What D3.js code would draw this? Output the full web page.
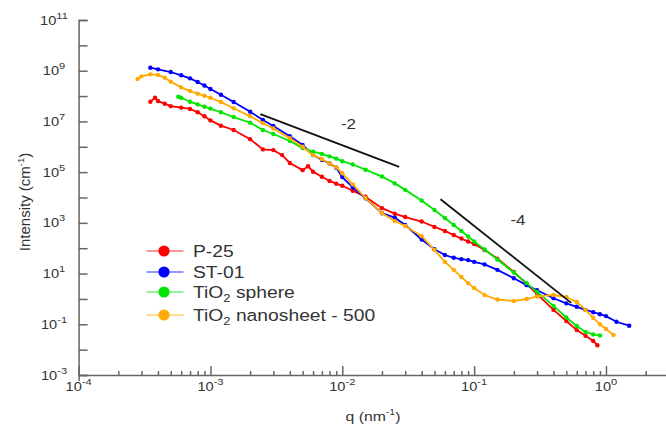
<!DOCTYPE html>
<html>
<head>
<meta charset="utf-8">
<script src="https://cdn.jsdelivr.net/npm/d3@7"></script>
<style>
  body { margin: 0; background: #fff; }
  text { font-family: "Liberation Sans", Arial, sans-serif; fill: #333; }
</style>
</head>
<body>
<script>
// q (nm^-1) and intensity (cm^-1)
const p25Q = [3.5e-4, 3.8e-4, 4e-4, 4.5e-4, 5e-4, 6e-4, 7e-4, 8e-4, 9e-4, 1e-3, 1.2e-3, 1.5e-3, 2e-3, 2.5e-3, 3e-3, 3.5e-3, 4e-3, 5e-3, 5.5e-3, 6e-3, 7e-3, 8e-3, 9e-3, 1e-2, 1.2e-2, 1.5e-2, 2e-2, 2.5e-2, 3e-2, 4e-2, 5e-2, 6e-2, 7e-2, 8e-2, 9e-2, 0.1, 0.12, 0.15, 0.2, 0.25, 0.3, 0.4, 0.5, 0.6, 0.7, 0.8, 0.86];
const p25I = [6.0e7, 8.6e7, 6.4e7, 5.0e7, 4.0e7, 3.5e7, 3.1e7, 2.3e7, 1.59e7, 1.1e7, 6.8e6, 4.6e6, 2.0e6, 7.9e5, 7.4e5, 4.7e5, 2.3e5, 1.2e5, 1.7e5, 1.04e5, 6.6e4, 4.5e4, 3.5e4, 2.9e4, 1.85e4, 1.07e4, 3.8e3, 2.3e3, 1.7e3, 1.13e3, 690, 480, 330, 240, 184, 147, 85, 39, 11.5, 3.9, 1.56, 0.37, 0.135, 0.059, 0.035, 0.022, 0.015];

const st01Q = [3.5e-4, 4e-4, 5e-4, 6e-4, 7e-4, 8e-4, 9e-4, 1e-3, 1.2e-3, 1.5e-3, 2e-3, 2.5e-3, 3e-3, 4e-3, 5e-3, 6e-3, 7e-3, 8e-3, 9e-3, 1e-2, 1.2e-2, 1.5e-2, 2e-2, 2.5e-2, 3e-2, 4e-2, 5e-2, 6e-2, 7e-2, 8e-2, 9e-2, 0.1, 0.12, 0.15, 0.2, 0.25, 0.3, 0.4, 0.5, 0.6, 0.7, 0.8, 0.9, 1.0, 1.2, 1.5];
const st01I = [1.31e9, 1.13e9, 8.9e8, 6.6e8, 5.0e8, 3.6e8, 2.6e8, 1.9e8, 1.13e8, 5.8e7, 2.4e7, 1.14e7, 6.6e6, 2.6e6, 1.17e6, 4.7e5, 3.1e5, 2.2e5, 1.5e5, 6.4e4, 2.5e4, 9.3e3, 2.4e3, 1.6e3, 820, 220, 91, 54, 42, 37, 34, 29, 23, 14, 6.5, 3.5, 2.2, 1.06, 0.67, 0.49, 0.37, 0.30, 0.25, 0.21, 0.126, 0.088];

const sphereQ = [5.7e-4, 6e-4, 7e-4, 8e-4, 9e-4, 1e-3, 1.2e-3, 1.5e-3, 2e-3, 2.5e-3, 3e-3, 4e-3, 5e-3, 6e-3, 7e-3, 8e-3, 9e-3, 1e-2, 1.2e-2, 1.5e-2, 2e-2, 2.5e-2, 3e-2, 4e-2, 5e-2, 6e-2, 7e-2, 8e-2, 9e-2, 0.1, 0.12, 0.15, 0.2, 0.25, 0.3, 0.4, 0.5, 0.6, 0.7, 0.8, 0.9];
const sphereI = [9.4e7, 8.6e7, 6.0e7, 4.7e7, 3.8e7, 3.2e7, 2.3e7, 1.49e7, 8.9e6, 4.6e6, 3.2e6, 1.69e6, 8.9e5, 6.4e5, 5.2e5, 4.2e5, 3.4e5, 2.7e5, 2.0e5, 1.25e5, 6.7e4, 3.6e4, 2.0e4, 7.6e3, 3.2e3, 1.55e3, 820, 480, 290, 184, 89, 36, 11, 4.2, 1.9, 0.53, 0.185, 0.086, 0.050, 0.040, 0.036];

const sheetQ = [2.8e-4, 3e-4, 3.5e-4, 4e-4, 4.5e-4, 5e-4, 6e-4, 7e-4, 8e-4, 9e-4, 1e-3, 1.2e-3, 1.5e-3, 2e-3, 2.5e-3, 3e-3, 4e-3, 5e-3, 6e-3, 7e-3, 8e-3, 9e-3, 1e-2, 1.2e-2, 1.5e-2, 2e-2, 2.5e-2, 3e-2, 4e-2, 5e-2, 6e-2, 7e-2, 8e-2, 9e-2, 0.1, 0.12, 0.15, 0.2, 0.25, 0.3, 0.4, 0.5, 0.6, 0.7, 0.8, 0.9, 1.0, 1.14];
const sheetI = [4.7e8, 6.0e8, 7.2e8, 6.8e8, 5.3e8, 3.7e8, 2.2e8, 1.58e8, 1.24e8, 1.03e8, 8.6e7, 5.8e7, 3.3e7, 1.59e7, 8.6e6, 5.3e6, 2.2e6, 1.0e6, 4.7e5, 3.3e5, 2.2e5, 1.55e5, 9.0e4, 3.3e4, 9.5e3, 2.4e3, 1.18e3, 750, 300, 85, 29, 14, 7.3, 4.2, 2.7, 1.43, 0.95, 0.83, 0.99, 1.25, 1.43, 1.19, 0.76, 0.37, 0.18, 0.10, 0.065, 0.038];

const seriesNames = ["P-25", "ST-01", "TiO2 sphere", "TiO2 nanosheet - 500"];
const seriesColors = ["#ff0000", "#0000ff", "#00e600", "#ffaa00"];

// guide slopes: [q, I] endpoints and their labels
const slope2 = [[2.39e-3, 1.95e7], [2.7e-2, 1.62e5]];
const slope4 = [[5.56e-2, 8.5e3], [0.545, 0.7]];
const slopeLabels = ["-2", "-4"];

const width = 666, height = 428;
const svg = d3.select("body").append("svg")
    .attr("width", width)
    .attr("height", height);

const x = d3.scaleLog().domain([1e-4, 3]).range([78.6, 668.9]);
const y = d3.scaleLog().domain([1e-3, 1e11]).range([375, 20]);

const axisColor = "#666";
const sx = 1.17; // text in the source is a bit wide

// text helper, stretched horizontally
function label(px, py, size, anchor) {
    return svg.append("g")
        .attr("transform", `translate(${px},${py}) scale(${sx},1)`)
        .append("text")
        .attr("text-anchor", anchor)
        .style("font-size", size + "px");
}
function power(t, e) {
    t.append("tspan").text("10");
    t.append("tspan").attr("dy", -6).style("font-size", "9.5px").text(e);
}

// y axis: ticks every decade, inside, labels at odd powers
const yAxis = svg.append("g")
    .attr("transform", `translate(${x(1e-4)},0)`)
    .call(d3.axisLeft(y)
        .tickValues(d3.range(-3, 12).map(e => Math.pow(10, e)))
        .tickSize(-9)
        .tickFormat(""));
yAxis.select(".domain").attr("stroke", axisColor).attr("stroke-width", 1.5);
yAxis.selectAll(".tick line").attr("stroke", axisColor).attr("stroke-width", 1.5);

d3.range(-3, 12, 2).forEach(e => {
    power(label(54, y(Math.pow(10, e)) + 4.5, 12.5, "middle"), e);
});

// x axis: minor + major ticks inside
const xTicks = [];
for (let e = -4; e <= 0; e++) {
    for (let m = 1; m <= 9; m++) {
        const v = m * Math.pow(10, e);
        if (v <= 3) xTicks.push(v);
    }
}
const xAxis = svg.append("g")
    .attr("transform", `translate(0,${y(1e-3)})`)
    .call(d3.axisBottom(x)
        .tickValues(xTicks)
        .tickFormat(""));
xAxis.select(".domain").attr("stroke", axisColor).attr("stroke-width", 1.5);
xAxis.selectAll(".tick line")
    .attr("stroke", axisColor)
    .attr("stroke-width", 1.5)
    .attr("y2", d => {
        const lg = Math.log10(d);
        return Math.abs(lg - Math.round(lg)) < 1e-9 ? -9 : -4;
    });

d3.range(-4, 1).forEach(e => {
    power(label(x(Math.pow(10, e)), 391, 12.5, "middle"), e);
});

// axis titles
const yTitle = svg.append("text")
    .attr("transform", `translate(30,${202}) rotate(-90)`)
    .attr("text-anchor", "middle")
    .style("font-size", "15px");
yTitle.append("tspan").text("Intensity (cm");
yTitle.append("tspan").attr("dy", -6).style("font-size", "9.5px").text("-1");
yTitle.append("tspan").attr("dy", 6).text(")");

const xTitle = label(373, 421, 13.5, "middle");
xTitle.append("tspan").text("q (nm");
xTitle.append("tspan").attr("dy", -6).style("font-size", "9px").text("-1");
xTitle.append("tspan").attr("dy", 6).text(")");

// series
const allQ = [p25Q, st01Q, sphereQ, sheetQ];
const allI = [p25I, st01I, sphereI, sheetI];
const line = d3.line().x(d => x(d[0])).y(d => y(d[1]));

allQ.forEach((qs, i) => {
    const pts = qs.map((q, k) => [q, allI[i][k]]);
    const g = svg.append("g");
    g.append("path")
        .datum(pts)
        .attr("d", line)
        .attr("fill", "none")
        .attr("stroke", seriesColors[i])
        .attr("stroke-width", 1.8);
    g.selectAll("circle")
        .data(pts)
        .join("circle")
        .attr("cx", d => x(d[0]))
        .attr("cy", d => y(d[1]))
        .attr("r", 2.2)
        .attr("fill", seriesColors[i]);
});

// slope guides
[slope2, slope4].forEach(s => {
    svg.append("line")
        .attr("x1", x(s[0][0])).attr("y1", y(s[0][1]))
        .attr("x2", x(s[1][0])).attr("y2", y(s[1][1]))
        .attr("stroke", "#111")
        .attr("stroke-width", 1.8);
});
label(348.5, 128.5, 14.5, "middle").text(slopeLabels[0]);
label(518, 225, 14.5, "middle").text(slopeLabels[1]);

// legend
const legendY = [251, 272, 292, 315];
seriesNames.forEach((name, i) => {
    const ly = legendY[i];
    svg.append("line")
        .attr("x1", 146.5).attr("x2", 183.5)
        .attr("y1", ly).attr("y2", ly)
        .attr("stroke", seriesColors[i])
        .attr("stroke-opacity", 0.55)
        .attr("stroke-width", 1.5);
    svg.append("circle")
        .attr("cx", 164).attr("cy", ly).attr("r", 5.6)
        .attr("fill", seriesColors[i]);
    const t = label(193, ly + 5.5, 16.5, "start");
    if (name.startsWith("TiO2")) {
        t.append("tspan").text("TiO");
        t.append("tspan").attr("dy", 4).style("font-size", "11px").text("2");
        t.append("tspan").attr("dy", -4).text(name.slice(4));
    } else {
        t.text(name);
    }
});
</script>
</body>
</html>
